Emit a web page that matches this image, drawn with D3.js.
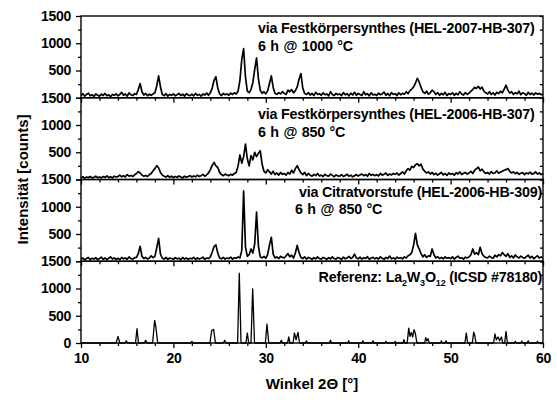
<!DOCTYPE html>
<html>
<head>
<meta charset="utf-8">
<script src="https://cdn.jsdelivr.net/npm/d3@7"></script>
<style>
  html, body { margin: 0; padding: 0; background: #fff; }
  svg text { font-family: "Liberation Sans", Arial, sans-serif; font-weight: bold; fill: #000; }
</style>
</head>
<body>
<div id="chart"></div>
<script>
// --- Data ---
// measured patterns: counts on a 0.2° grid from 10° to 60°
const gridStart = 10;
const gridStep = 0.2;

// HEL-2007-HB-307, 6 h @ 1000 °C
const counts2007 = [
  40, 75, 30, 60, 85, 35, 55, 25, 70, 45,
  30, 65, 40, 80, 35, 55, 20, 60, 45, 70,
  35, 60, 100, 45, 70, 30, 90, 55, 40, 75,
  60, 150, 260, 110, 50, 80, 35, 65, 45, 70,
  90, 220, 400, 200, 60, 40, 75, 30, 60, 45,
  70, 35, 55, 80, 40, 65, 30, 75, 50, 40,
  65, 35, 80, 45, 60, 30, 70, 50, 85, 45,
  90, 180, 320, 385, 180, 70, 40, 80, 55, 70,
  45, 85, 60, 90, 70, 120, 320, 700, 900, 380,
  120, 95, 150, 280, 520, 730, 350, 140, 80, 110,
  70, 130, 260, 400, 190, 80, 60, 95, 70, 110,
  80, 60, 140, 110, 150, 90, 130, 200, 340, 445,
  180, 80, 60, 95, 50, 80, 40, 100, 60, 75,
  45, 90, 55, 70, 35, 110, 60, 40, 80, 55,
  70, 40, 95, 55, 75, 35, 85, 50, 100, 45,
  80, 60, 40, 110, 55, 75, 35, 90, 50, 65,
  40, 85, 55, 70, 105, 45, 80, 35, 95, 60,
  75, 40, 90, 55, 80, 65, 110, 75, 130, 160,
  200, 270, 355, 290, 190, 110, 80, 120, 65, 90,
  140, 110, 60, 95, 45, 80, 55, 100, 40, 75,
  60, 90, 45, 80, 55, 110, 70, 50, 95, 60,
  85, 120, 150, 190, 170, 210, 160, 195, 120, 90,
  70, 110, 60, 90, 50, 100, 75, 120, 90, 160,
  230, 140, 85, 110, 60, 95, 70, 120, 55, 90,
  75, 45, 100, 60, 85, 50, 90, 65, 80, 55,
  70
];

// HEL-2006-HB-307, 6 h @ 850 °C
const counts2006a = [
  30, 50, 25, 45, 35, 55, 30, 40, 60, 35,
  45, 30, 55, 40, 65, 35, 50, 30, 60, 45,
  55, 80, 50, 70, 45, 90, 60, 75, 55, 85,
  110, 145, 120, 80, 60, 75, 55, 90, 110, 160,
  200, 255, 210, 130, 80, 60, 45, 70, 40, 60,
  35, 55, 40, 65, 45, 30, 60, 40, 55, 70,
  45, 65, 50, 80, 55, 70, 95, 60, 85, 120,
  180, 260, 315, 250, 220, 130, 90, 70, 100, 80,
  70, 95, 80, 110, 130, 250, 450, 300, 420, 650,
  380, 250, 440, 360, 500, 420, 480, 530, 280, 150,
  120, 180, 140, 100, 150, 90, 120, 80, 130, 95,
  110, 80, 130, 100, 170, 120, 200, 255, 180, 120,
  90, 130, 70, 110, 80, 60, 95, 70, 110, 65,
  80, 55, 95, 70, 60, 100, 75, 50, 85, 65,
  60, 90, 55, 75, 95, 60, 80, 50, 70, 90,
  65, 85, 100, 70, 90, 60, 110, 75, 95, 70,
  90, 65, 110, 80, 95, 120, 75, 100, 85, 110,
  95, 120, 80, 110, 140, 100, 160, 200, 170, 240,
  220, 270, 290, 250, 280, 190, 150, 120, 140, 100,
  130, 90, 115, 80, 105, 130, 85, 110, 75, 120,
  95, 110, 80, 125, 100, 140, 90, 115, 130, 100,
  120, 150, 110, 170, 200, 225, 160, 190, 140, 110,
  130, 100, 145, 110, 120, 160, 115, 135, 150, 170,
  180, 200, 150, 120, 140, 105, 130, 95, 115, 125,
  90, 120, 105, 135, 95, 110, 140, 100, 120, 90,
  110
];

// HEL-2006-HB-309 (Citratvorstufe), 6 h @ 850 °C
const counts2006b = [
  35, 60, 25, 50, 70, 30, 55, 40, 65, 30,
  50, 75, 35, 60, 30, 55, 80, 40, 60, 35,
  55, 30, 70, 45, 60, 35, 80, 50, 40, 65,
  70, 140, 275, 90, 50, 70, 40, 60, 100, 65,
  90, 250, 420, 130, 55, 40, 70, 35, 60, 50,
  35, 65, 45, 55, 30, 70, 40, 60, 35, 55,
  45, 70, 35, 60, 40, 55, 75, 35, 60, 50,
  80, 170, 270, 300, 150, 60, 45, 70, 40, 60,
  50, 75, 40, 65, 55, 80, 60, 200, 1290, 260,
  90, 120, 225, 150, 320, 900, 280, 80, 60, 90,
  55, 120, 300, 440, 130, 60, 80, 50, 90, 70,
  60, 100, 140, 80, 110, 60, 150, 290, 160, 70,
  50, 80, 40, 70, 55, 35, 65, 45, 80, 50,
  40, 70, 55, 35, 65, 45, 80, 50, 40, 70,
  55, 35, 75, 45, 60, 90, 50, 70, 130, 60,
  45, 75, 40, 65, 50, 85, 35, 60, 70, 45,
  65, 40, 80, 55, 35, 70, 50, 95, 45, 60,
  40, 75, 55, 65, 45, 80, 60, 100, 120, 160,
  300, 510, 300, 225, 140, 80, 120, 70, 100, 90,
  225, 120, 60, 85, 50, 70, 45, 80, 55, 65,
  50, 80, 40, 70, 95, 55, 65, 40, 75, 60,
  80, 120, 225, 130, 160, 120, 256, 140, 90, 70,
  60, 95, 70, 55, 110, 80, 120, 100, 160, 120,
  90, 140, 70, 100, 60, 115, 80, 60, 95, 70,
  55, 85, 110, 60, 90, 45, 75, 100, 60, 80,
  55
];

// reference La2W3O12 (ICSD #78180): [2θ, counts]
const refPattern = [
  [10, 0], [13.8, 0], [14.0, 122], [14.2, 0], [14.75, 0], [14.9, 40], [15.05, 0],
  [15.9, 0], [16.06, 262], [16.22, 0], [16.85, 0], [17.0, 50], [17.15, 0],
  [17.75, 0], [17.97, 415], [18.1, 300], [18.3, 0], [21.85, 0], [22.0, 30], [22.15, 0],
  [23.95, 0], [24.15, 230], [24.35, 250], [24.55, 0], [25.4, 0], [25.55, 50], [25.7, 0],
  [26.95, 0], [27.13, 1280], [27.32, 0], [27.85, 0], [28.0, 183], [28.15, 0],
  [28.4, 0], [28.58, 993], [28.78, 0], [29.95, 0], [30.13, 347], [30.32, 0],
  [31.55, 0], [31.68, 50], [31.8, 0], [32.35, 0], [32.48, 110], [32.62, 0],
  [32.95, 0], [33.1, 183], [33.28, 60], [33.48, 195], [33.65, 0], [34.3, 0], [34.4, 40], [34.5, 0],
  [36.9, 0], [37.0, 50], [37.1, 0], [38.9, 0], [38.97, 45], [39.05, 0],
  [40.4, 0], [40.5, 40], [40.6, 0], [41.5, 0], [41.6, 40], [41.7, 0],
  [42.9, 0], [43.0, 30], [43.1, 0], [43.9, 0], [44.0, 30], [44.1, 0],
  [44.85, 0], [44.95, 60], [45.05, 0], [45.3, 0], [45.47, 274], [45.6, 120], [45.75, 195],
  [45.9, 110], [46.04, 245], [46.18, 180], [46.35, 0], [47.2, 0], [47.3, 100], [47.42, 40],
  [47.55, 80], [47.7, 0], [48.9, 0], [49.0, 40], [49.1, 0], [49.4, 0], [49.5, 40], [49.6, 0],
  [51.55, 0], [51.7, 183], [51.85, 0], [52.35, 0], [52.5, 200], [52.6, 150], [52.75, 0],
  [54.65, 0], [54.8, 165], [54.95, 60], [55.15, 110], [55.3, 40], [55.5, 110], [55.65, 0],
  [55.85, 0], [56.0, 213], [56.15, 0], [56.9, 0], [57.0, 30], [57.1, 0], [57.6, 0], [57.7, 35],
  [57.8, 0], [58.3, 0], [58.4, 40], [58.5, 0], [59.3, 0], [59.4, 30], [59.5, 0], [60, 0]
];

// axis ticks
const xMajorTicks = [10, 20, 30, 40, 50, 60];
const xMinorTicks = [12, 14, 16, 18, 22, 24, 26, 28, 32, 34, 36, 38, 42, 44, 46, 48, 52, 54, 56, 58];
const yMajorTicks = [0, 500, 1000, 1500];
const yMinorTicks = [250, 750, 1250];

// panel captions (line 1 source, line 2 conditions)
const captions = [
  ["via Festkörpersynthes (HEL-2007-HB-307)", "6 h @ 1000 °C"],
  ["via Festkörpersynthes (HEL-2006-HB-307)", "6 h @ 850 °C"],
  ["via Citratvorstufe (HEL-2006-HB-309)", "6 h @ 850 °C"],
  ["Referenz: La₂W₃O₁₂ (ICSD #78180)", null]
];

// --- Layout ---
const W = 557, H = 400;
const plotLeft = 81, plotRight = 543, plotTop = 16, plotBottom = 343;
const panelH = (plotBottom - plotTop) / 4;

const svg = d3.select("#chart").append("svg")
  .attr("width", W).attr("height", H);

const x = d3.scaleLinear().domain([10, 60]).range([plotLeft, plotRight]);

function gridPoints(arr) {
  return arr.map((c, i) => [gridStart + i * gridStep, c]);
}

const series = [
  gridPoints(counts2007),
  gridPoints(counts2006a),
  gridPoints(counts2006b),
  refPattern
];

series.forEach((pts, k) => {
  const top = plotTop + k * panelH;
  const bottom = top + panelH;
  const isLast = k === series.length - 1;
  const y = d3.scaleLinear().domain([0, 1500]).range([bottom, top]);
  const g = svg.append("g");

  // trace
  const line = d3.line().x(d => x(d[0])).y(d => y(d[1]));
  g.append("path")
    .datum(pts)
    .attr("fill", "none")
    .attr("stroke", "#000")
    .attr("stroke-width", isLast ? 1.3 : 1.7)
    .attr("stroke-linejoin", "round")
    .attr("d", line);

  // left axis (outward ticks); the "0" of upper panels sits under the next panel's "1500"
  const left = g.append("g").attr("transform", `translate(${plotLeft},0)`);
  left.call(d3.axisLeft(y).tickValues(yMajorTicks).tickSize(5).tickPadding(5)
    .tickFormat(d => (d === 0 && !isLast) ? "" : d3.format("d")(d)));
  left.append("g").call(d3.axisLeft(y).tickValues(yMinorTicks).tickSize(3).tickFormat(""));

  // right axis (inward ticks)
  const right = g.append("g").attr("transform", `translate(${plotRight},0)`);
  right.call(d3.axisLeft(y).tickValues(yMajorTicks.concat(yMinorTicks)).tickSize(3).tickFormat(""));

  // bottom axis (outward ticks)
  const bot = g.append("g").attr("transform", `translate(0,${bottom})`);
  bot.call(d3.axisBottom(x).tickValues(xMajorTicks).tickSize(5).tickPadding(5)
    .tickFormat(isLast ? d3.format("d") : ""));
  bot.append("g").call(d3.axisBottom(x).tickValues(xMinorTicks).tickSize(3).tickFormat(""));

  g.selectAll(".domain").remove();
  g.selectAll(".tick line").attr("stroke", "#000").attr("stroke-width", 1.3);
  g.selectAll(".tick text")
    .attr("font-size", 14)
    .attr("font-family", "Liberation Sans, Arial, sans-serif")
    .attr("font-weight", "bold")
    .attr("letter-spacing", -0.3);

  // frame
  g.append("rect")
    .attr("x", plotLeft).attr("y", top)
    .attr("width", plotRight - plotLeft).attr("height", panelH)
    .attr("fill", "none").attr("stroke", "#000").attr("stroke-width", 1.4);
});

// --- Captions ---
const capStyle = sel => sel.attr("font-size", 14.3).attr("letter-spacing", -0.2);

svg.append("text").call(capStyle)
  .attr("x", 258).attr("y", 33.3).text(captions[0][0]);
svg.append("text").call(capStyle)
  .attr("x", 258).attr("y", 50.7).attr("word-spacing", 0.8).text(captions[0][1]);

svg.append("text").call(capStyle)
  .attr("x", 258).attr("y", 119.3).text(captions[1][0]);
svg.append("text").call(capStyle)
  .attr("x", 258).attr("y", 136.7).attr("word-spacing", 0.8).text(captions[1][1]);

svg.append("text").call(capStyle)
  .attr("x", 542).attr("y", 196.5).attr("text-anchor", "end").text(captions[2][0]);
svg.append("text").call(capStyle)
  .attr("x", 295).attr("y", 213.5).attr("word-spacing", 0.8).text(captions[2][1]);

// reference caption with real subscripts
const ref = svg.append("text").call(capStyle)
  .attr("x", 542).attr("y", 282).attr("text-anchor", "end");
ref.append("tspan").text("Referenz: La");
ref.append("tspan").attr("font-size", 9).attr("dy", 4).text("2");
ref.append("tspan").attr("dy", -4).text("W");
ref.append("tspan").attr("font-size", 9).attr("dy", 4).text("3");
ref.append("tspan").attr("dy", -4).text("O");
ref.append("tspan").attr("font-size", 9).attr("dy", 4).text("12");
ref.append("tspan").attr("dy", -4).text(" (ICSD #78180)");

// --- Axis titles ---
svg.append("text")
  .attr("x", (plotLeft + plotRight) / 2).attr("y", 389)
  .attr("text-anchor", "middle").attr("font-size", 15)
  .text("Winkel 2Θ [°]");

svg.append("text")
  .attr("transform", `translate(28,${(plotTop + plotBottom) / 2}) rotate(-90)`)
  .attr("text-anchor", "middle").attr("font-size", 15)
  .text("Intensität [counts]");
</script>
</body>
</html>
